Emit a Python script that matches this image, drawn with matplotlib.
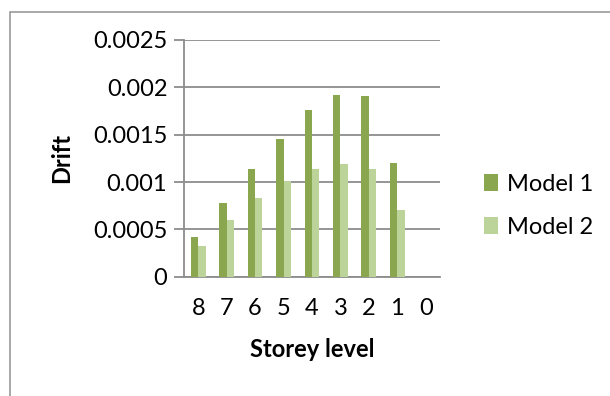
import matplotlib.pyplot as plt
from matplotlib.patches import Rectangle
import numpy as np

# Storey drift for the two models
storeys = ['8', '7', '6', '5', '4', '3', '2', '1', '0']
model_1 = [0.00042, 0.00078, 0.00114, 0.00146, 0.00176, 0.00192, 0.00191, 0.00120, 0]
model_2 = [0.00033, 0.00060, 0.00083, 0.00101, 0.00114, 0.00119, 0.00114, 0.00070, 0]

plt.rcParams['font.family'] = ['Lato', 'DejaVu Sans']
fs = 17

fig = plt.figure(figsize=(6.1, 3.96), dpi=100)
ax = fig.add_axes([0.3016, 0.301, 0.4197, 0.598])

# outer chart border (only top and left edges fall inside the image)
fig.patches.append(Rectangle((10 / 610, -0.1), 1.2, 1 - 12 / 396 + 0.1,
                             transform=fig.transFigure, fill=False,
                             edgecolor='#9a9a9a', linewidth=1.2))

x = np.arange(len(storeys))
w = 0.26
ax.bar(x - w / 2, model_1, w, color='#8aa64f', label='Model 1', zorder=3)
ax.bar(x + w / 2, model_2, w, color='#bcd39a', label='Model 2', zorder=3)

ax.set_xlim(-0.5, len(storeys) - 0.5)
ax.set_ylim(0, 0.0025)
ax.set_yticks([0, 0.0005, 0.001, 0.0015, 0.002, 0.0025])
ax.set_yticklabels(['0', '0.0005', '0.001', '0.0015', '0.002', '0.0025'])
ax.set_xticks(x)
ax.set_xticklabels(storeys)

ax.grid(axis='y', color='#8c8c8c', linewidth=1.3, zorder=0)
for s in ['top', 'right']:
    ax.spines[s].set_visible(False)
for s in ['left', 'bottom']:
    ax.spines[s].set_color('#8c8c8c')
    ax.spines[s].set_linewidth(1.3)
ax.tick_params(axis='y', length=7, width=1.3, color='#8c8c8c', labelsize=fs, pad=5)
ax.tick_params(axis='x', length=0, labelsize=fs, pad=15)

ax.set_ylabel('Drift', fontsize=fs, fontweight='bold', labelpad=14)
ax.set_xlabel('Storey level', fontsize=fs, fontweight='bold', labelpad=14)

ax.legend(loc='center left', bbox_to_anchor=(1.09, 0.30), frameon=False,
          fontsize=fs, handlelength=0.6, handleheight=0.7, handletextpad=0.35,
          labelspacing=0.95)

fig.savefig('out.png', dpi=100)
